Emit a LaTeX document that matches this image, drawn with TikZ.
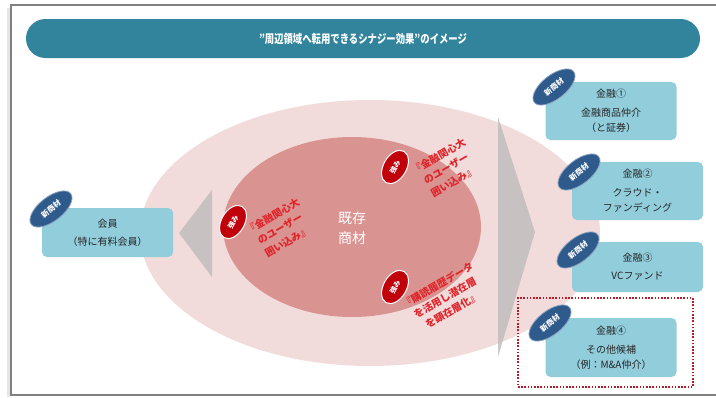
\documentclass[tikz,border=0pt]{standalone}
\usepackage{fontspec}
\setmainfont{Noto Sans CJK JP}
\usetikzlibrary{shapes.geometric}
\definecolor{titlebar}{HTML}{31849B}
\definecolor{boxblue}{HTML}{92CDDC}
\definecolor{outerpink}{HTML}{F2DCDB}
\definecolor{innerpink}{HTML}{D99391}
\definecolor{badgeblue}{HTML}{2E5A8C}
\definecolor{badgered}{HTML}{C0000B}
\definecolor{redtext}{HTML}{E0242A}
\definecolor{dotred}{HTML}{B81D2B}
\definecolor{framegray}{HTML}{808080}
\begin{document}
\begin{tikzpicture}[x=1pt,y=-1pt,
  svcbox/.style={rectangle, rounded corners=5pt, fill=boxblue, minimum width=131pt,
    text=black!85, font=\fontsize{10}{15}\selectfont, align=center, inner sep=0pt},
  newbadge/.style={ellipse, fill=badgeblue, draw=badgeblue!55!white, line width=0.8pt,
    minimum width=50pt, minimum height=24pt, inner sep=0pt, text=white,
    font=\fontsize{7.5}{8}\selectfont\bfseries, rotate=38},
  strbadge/.style={ellipse, fill=badgered, draw=white, line width=1pt,
    minimum width=36pt, minimum height=23pt, inner sep=0pt, text=white,
    font=\fontsize{7}{8}\selectfont\bfseries, rotate=60},
  redlbl/.style={text=redtext, font=\fontsize{10}{14.5}\selectfont\bfseries,
    align=center, rotate=30, inner sep=0pt},
  arrowtri/.style={fill=gray!55, fill opacity=0.75}
]
\useasboundingbox (0,0) rectangle (716,397);
\clip (0,0) rectangle (716,397);
\fill[white] (0,0) rectangle (716,397);
% frame
\draw[gray!20, line width=3pt] (8,8) -- (8,397);
\draw[framegray, line width=1.5pt] (725,5) -- (11,5) -- (11,395) -- (725,395);
% title
\node[fill=titlebar, rounded corners=19.5pt, minimum width=674pt, minimum height=39pt,
  inner sep=0pt, text=white, font=\fontsize{12}{14}\selectfont\bfseries]
  (title) at (363,38.5) {\scalebox{0.78}[1]{"周辺領域へ転用できるシナジー効果"のイメージ}};
% ellipses
\node[ellipse, fill=outerpink, minimum width=460pt, minimum height=266pt, inner sep=0pt]
  (outer) at (370,233) {};
\node[ellipse, fill=innerpink, minimum width=258pt, minimum height=180pt, inner sep=0pt]
  (inner) at (352,227) {};
% arrows
\coordinate (la1) at (212,190);
\coordinate (la2) at (179,233);
\coordinate (la3) at (212,277);
\fill[arrowtri] (la1) -- (la2) -- (la3) -- cycle;
\coordinate (ra1) at (498,117);
\coordinate (ra2) at (535,232);
\coordinate (ra3) at (498,357);
\fill[arrowtri] (ra1) -- (ra2) -- (ra3) -- cycle;
% center text
\node[text=white, font=\fontsize{14}{20}\selectfont, align=center] (kizon) at (352,228) {既存\\商材};
% red labels
\node[redlbl] (l1) at (280,229) {『金融関心大\\のユーザー\\囲い込み』};
\node[redlbl] (l2) at (446,169) {『金融関心大\\のユーザー\\囲い込み』};
\node[redlbl] (l3) at (445,298) {『購読履歴データ\\を活用し潜在層\\を顕在層化』};
\node[strbadge] (s1) at (233,222) {強み};
\node[strbadge] (s2) at (395,167) {強み};
\node[strbadge] (s3) at (395,287) {強み};
% boxes
\node[svcbox, minimum height=49pt] (member) at (107.5,232.5) {会員\\[3pt]（特に有料会員）};
\node[svcbox, minimum height=58pt] (fin1) at (611,111) {金融①\\[4pt]金融商品仲介\\（と証券）};
\node[svcbox, minimum height=58pt] (fin2) at (637.5,191) {金融②\\[4pt]クラウド・\\ファンディング};
\node[svcbox, minimum height=50pt] (fin3) at (637.5,267) {金融③\\[3pt]VCファンド};
\node[svcbox, minimum height=59pt] (fin4) at (611,347.5) {金融④\\[4pt]その他候補\\（例：M\&A仲介）};
\node[draw=dotred, dash pattern=on 1.6pt off 1.6pt, line width=1.6pt, minimum width=175pt,
  minimum height=89pt, inner sep=0pt] (cand) at (605.5,342.5) {};
% new badges
\node[newbadge] (nb0) at (51,209) {新商材};
\node[newbadge] (nb1) at (554,87) {新商材};
\node[newbadge] (nb2) at (579,172) {新商材};
\node[newbadge] (nb3) at (578,250) {新商材};
\node[newbadge] (nb4) at (550,323) {新商材};
\end{tikzpicture}
\end{document}
